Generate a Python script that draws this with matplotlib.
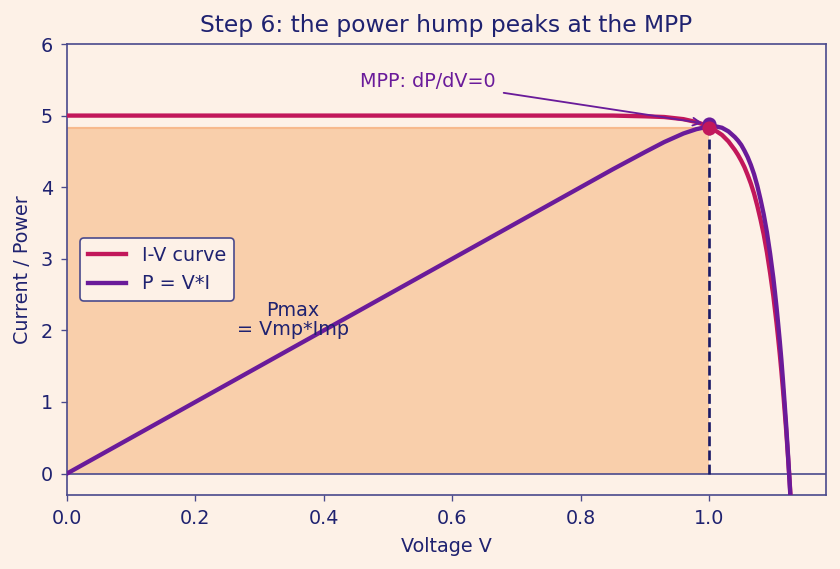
import matplotlib
matplotlib.use("Agg")
import matplotlib.pyplot as plt

# Data
voltage = [0.0, 0.1, 0.2, 0.3, 0.4, 0.5, 0.6, 0.7, 0.8, 0.85, 0.9, 0.93, 0.94, 0.95,
           0.96, 0.97, 0.98, 0.99, 1.0, 1.01, 1.02, 1.03, 1.04, 1.045, 1.05, 1.055,
           1.06, 1.065, 1.07, 1.075, 1.08, 1.085, 1.09, 1.095, 1.10, 1.1025, 1.105,
           1.1075, 1.11, 1.1125, 1.115, 1.1175, 1.12, 1.1225, 1.125, 1.1275, 1.13]
current = [5.00, 5.00, 5.00, 5.00, 5.00, 5.00, 5.00, 5.00, 5.00, 5.00, 4.99, 4.98, 4.97, 4.96,
           4.95, 4.93, 4.91, 4.88, 4.84, 4.79, 4.73, 4.64, 4.52, 4.45, 4.37, 4.28,
           4.17, 4.05, 3.91, 3.74, 3.55, 3.34, 3.09, 2.80, 2.48, 2.29, 2.10,
           1.89, 1.67, 1.43, 1.17, 0.89, 0.60, 0.28, -0.06, -0.42, -0.81]
power = [0.00, 0.50, 1.00, 1.50, 2.00, 2.50, 3.00, 3.50, 4.00, 4.25, 4.49, 4.63, 4.67, 4.71,
         4.75, 4.78, 4.81, 4.83, 4.85, 4.85, 4.83, 4.78, 4.70, 4.65, 4.59, 4.51,
         4.42, 4.31, 4.18, 4.02, 3.83, 3.62, 3.37, 3.07, 2.73, 2.53, 2.32,
         2.09, 1.85, 1.59, 1.30, 0.99, 0.67, 0.31, -0.07, -0.47, -0.92]
v_mp = 1.0
i_mp = 4.83
p_max = 4.88

title = "Step 6: the power hump peaks at the MPP"
xlabel = "Voltage V"
ylabel = "Current / Power"
legend_labels = ["I-V curve", "P = V*I"]
mpp_text = "MPP: dP/dV=0"
pmax_text = "Pmax\n= Vmp*Imp"

BG = "#fdf1e7"
NAVY = "#1f2270"
SPINE = "#4a4a8c"
MAGENTA = "#c2185b"
PURPLE = "#6a1b9a"

DPI = 120
fig = plt.figure(figsize=(840/DPI, 569/DPI), dpi=DPI, facecolor=BG)
ax = fig.add_axes([67/840, 1-495/569, (826-67)/840, (495-44)/569])
ax.set_facecolor(BG)

# Pmax rectangle
ax.fill_between([0, v_mp], [0, 0], [i_mp, i_mp], color="#f9cfab", zorder=1, linewidth=0)
ax.plot([0, v_mp], [i_mp, i_mp], color="#f7b98c", lw=1.3, zorder=1.5)

ax.axhline(0, color=SPINE, lw=1.0, zorder=2)
ax.plot([v_mp, v_mp], [0, i_mp], color="#1a1a66", lw=1.6, ls="--", zorder=3)

ax.plot(voltage, current, color=MAGENTA, lw=2.6, label=legend_labels[0], zorder=4)
ax.plot(voltage, power, color=PURPLE, lw=2.6, label=legend_labels[1], zorder=5)

ax.plot([v_mp], [p_max], "o", color=PURPLE, ms=7.5, zorder=6)
ax.plot([v_mp], [i_mp], "o", color=MAGENTA, ms=7.5, zorder=7)

ax.annotate(mpp_text, xy=(v_mp, p_max), xytext=(0.456, 5.48),
            color=PURPLE, fontsize=11.5, va="center", ha="left",
            arrowprops=dict(arrowstyle="->", color=PURPLE, lw=1.1,
                            shrinkA=3, shrinkB=4), zorder=8)
ax.text(0.352, 2.15, pmax_text, color=NAVY, fontsize=11.5, ha="center", va="center",
        linespacing=1.0, zorder=8)

ax.set_xlim(0, 1.182)
ax.set_ylim(-0.3, 6)
ax.set_xticks([0.0, 0.2, 0.4, 0.6, 0.8, 1.0])
ax.set_yticks([0, 1, 2, 3, 4, 5, 6])

ax.set_title(title, color=NAVY, fontsize=14, pad=7)
ax.set_xlabel(xlabel, color=NAVY, fontsize=11.5, labelpad=5)
ax.set_ylabel(ylabel, color=NAVY, fontsize=11.5, labelpad=5)
ax.tick_params(colors=NAVY, labelsize=11.5, color=SPINE, pad=5)
for s in ax.spines.values():
    s.set_color(SPINE)
    s.set_linewidth(1.0)

leg = ax.legend(loc="center left", bbox_to_anchor=(0.005, 0.5), fontsize=11.5,
                frameon=True, facecolor=BG, edgecolor=SPINE, framealpha=1,
                handlelength=2.0, borderpad=0.4)
leg.get_frame().set_linewidth(1.0)
for t in leg.get_texts():
    t.set_color(NAVY)

fig.savefig("out.png", dpi=DPI, facecolor=BG)
